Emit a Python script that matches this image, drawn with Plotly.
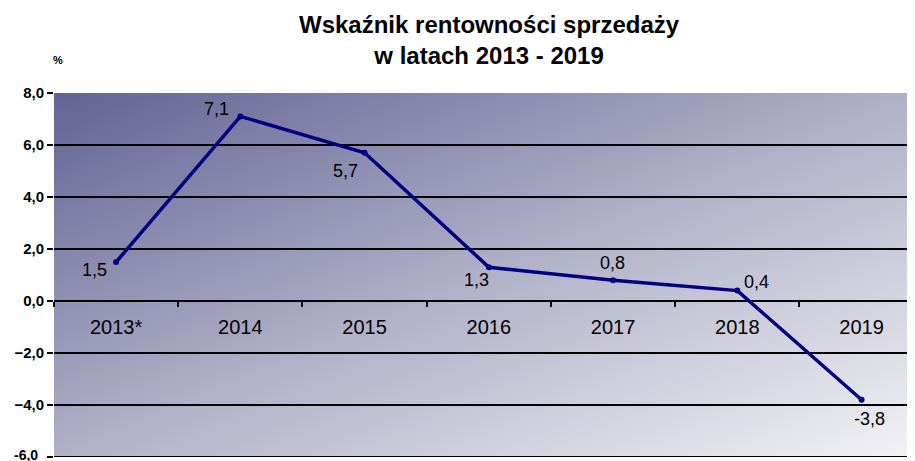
import base64
import plotly.graph_objects as go

years = ["2013*", "2014", "2015", "2016", "2017", "2018", "2019"]
values = [1.5, 7.1, 5.7, 1.3, 0.8, 0.4, -3.8]
labels = ["1,5", "7,1", "5,7", "1,3", "0,8", "0,4", "-3,8"]
# label offsets from the point, in pixels (style only)
label_dx = [-22, -24, -19, -12, -1, 19, 8]
label_dy = [8, -7, 18, 13, -17, -9, 19]

svg = ('<svg xmlns="http://www.w3.org/2000/svg" width="100" height="100" preserveAspectRatio="none">'
       '<defs><linearGradient id="g" x1="0" y1="0" x2="1" y2="1">'
       '<stop offset="0" stop-color="#636395"/>'
       '<stop offset="0.5" stop-color="#b0b0c8"/>'
       '<stop offset="1" stop-color="#f2f2f6"/>'
       '</linearGradient></defs>'
       '<rect width="100" height="100" fill="url(#g)"/></svg>')
src = "data:image/svg+xml;base64," + base64.b64encode(svg.encode()).decode()

FONT = "Arial, Liberation Sans"

fig = go.Figure()
fig.add_trace(go.Scatter(
    x=years, y=values, mode="lines+markers",
    line=dict(color="#000080", width=3.5),
    marker=dict(color="#000080", size=6),
    cliponaxis=False, hoverinfo="skip",
))

annotations = [
    dict(text="<b>Wskaźnik rentowności sprzedaży</b><br><b>w latach 2013 - 2019</b>",
         xref="paper", yref="paper", x=0.506, y=1, yshift=84, xanchor="center",
         yanchor="top", showarrow=False, align="center",
         font=dict(family="Liberation Sans Narrow, Arial, Liberation Sans",
                   size=24, color="black")),
    dict(text="<b>%</b>", xref="paper", yref="paper", x=0.005, y=1, yshift=33,
         xanchor="center", yanchor="middle", showarrow=False,
         font=dict(family=FONT, size=11, color="black")),
    dict(text="<b>-6,0</b>", xref="paper", yref="y", x=0, y=-6, xshift=-14,
         yshift=2, xanchor="right", yanchor="middle", showarrow=False,
         font=dict(family=FONT, size=14, color="black")),
]
for i, (v, t, dx, dy) in enumerate(zip(values, labels, label_dx, label_dy)):
    annotations.append(dict(
        x=i, y=v, xref="x", yref="y", text=t, showarrow=False,
        xanchor="center", yanchor="middle",
        xshift=dx, yshift=-dy, font=dict(family=FONT, size=18, color="black")))

fig.update_layout(
    width=907, height=453,
    margin=dict(l=46, r=0, t=85, b=4),
    paper_bgcolor="white", plot_bgcolor="rgba(0,0,0,0)",
    separators=", ",
    showlegend=False,
    images=[dict(source=src, xref="paper", yref="paper", x=0, y=1,
                 sizex=1, sizey=1, sizing="stretch", layer="below")],
    shapes=[dict(type="line", xref="paper", yref="y", x0=0, x1=1, y0=-6, y1=-6,
                 line=dict(color="black", width=2))],
    xaxis=dict(type="category", range=[-0.5, 6.43], anchor="free",
               position=6 / 14, showgrid=False, zeroline=False,
               showline=False, ticks="outside", tickson="boundaries",
               ticklen=5, tickwidth=2, tickcolor="black",
               ticklabelstandoff=12,
               tickfont=dict(family=FONT, size=20, color="black")),
    yaxis=dict(range=[-6, 8], dtick=2, tick0=0, tickformat=".1f",
               showgrid=True, gridcolor="black", gridwidth=1.6,
               zeroline=True, zerolinecolor="black", zerolinewidth=1.6,
               ticks="outside", ticklen=6, tickwidth=2, tickcolor="black",
               showline=False,
               tickfont=dict(family=FONT, size=15, color="black", weight="bold")),
    annotations=annotations,
)

fig.write_html("out.html")
